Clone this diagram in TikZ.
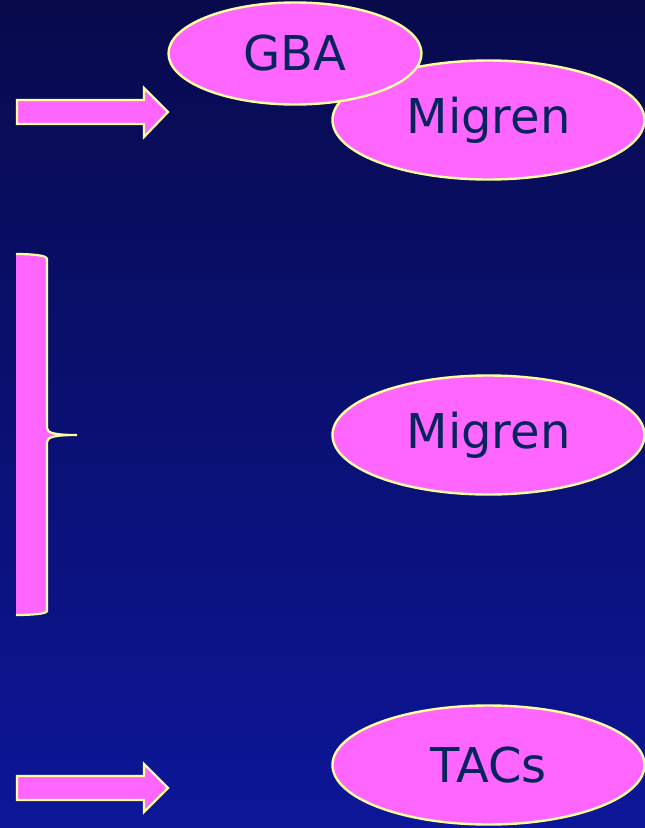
\documentclass[tikz,border=0pt]{standalone}
\usepackage{fontspec}
\setmainfont{DejaVu Sans}
\usetikzlibrary{shapes.geometric}
\definecolor{bgtop}{RGB}{8,10,76}
\definecolor{bgbot}{RGB}{12,22,152}
\definecolor{pinkfill}{RGB}{255,102,255}
\definecolor{edgeyellow}{RGB}{255,255,160}
\definecolor{inktext}{RGB}{8,36,92}
\tikzset{
  bubble/.style={ellipse, fill=pinkfill, draw=edgeyellow, line width=2.4pt,
    inner sep=0pt, text=inktext, font=\fontsize{48}{48}\selectfont},
  blockarrow/.style={fill=pinkfill, draw=edgeyellow, line width=2.2pt, line join=miter},
}
\begin{document}
\begin{tikzpicture}[x=1pt,y=-1pt]
  % background
  \shade[top color=bgtop, bottom color=bgbot] (0,0) rectangle (645,828);
  \useasboundingbox (0,0) rectangle (645,828);

  % ellipses
  \node[bubble, minimum width=312pt, minimum height=119pt] (migA) at (488.5,120) {Migren};
  \node[bubble, minimum width=253pt, minimum height=102pt] (gba) at (295,53.5) {GBA};
  \node[bubble, minimum width=312pt, minimum height=119pt] (migB) at (488.5,435) {Migren};
  \node[bubble, minimum width=312pt, minimum height=119pt] (tacs) at (488.5,765) {TACs};

  % top block arrow
  \draw[blockarrow] (17,100) -- (144,100) -- (144,88) -- (168,112) -- (144,137)
    -- (144,124) -- (17,124) -- cycle;
  % bottom block arrow
  \draw[blockarrow] (17,776) -- (144,776) -- (144,764) -- (168,788) -- (144,812)
    -- (144,800) -- (17,800) -- cycle;

  % brace: pink fill to the left, yellow outline on the right
  \fill[pinkfill] (16,254) .. controls (30,254) and (47,255) .. (47,259)
    -- (47,428) .. controls (47,433) and (55,435) .. (77,435)
    .. controls (55,435) and (47,437) .. (47,442)
    -- (47,611) .. controls (47,614) and (30,615) .. (16,615) -- cycle;
  \draw[edgeyellow, line width=2.2pt] (16,254) .. controls (30,254) and (47,255) .. (47,259)
    -- (47,428) .. controls (47,433) and (55,435) .. (77,435)
    .. controls (55,435) and (47,437) .. (47,442)
    -- (47,611) .. controls (47,614) and (30,615) .. (16,615);
\end{tikzpicture}
\end{document}
